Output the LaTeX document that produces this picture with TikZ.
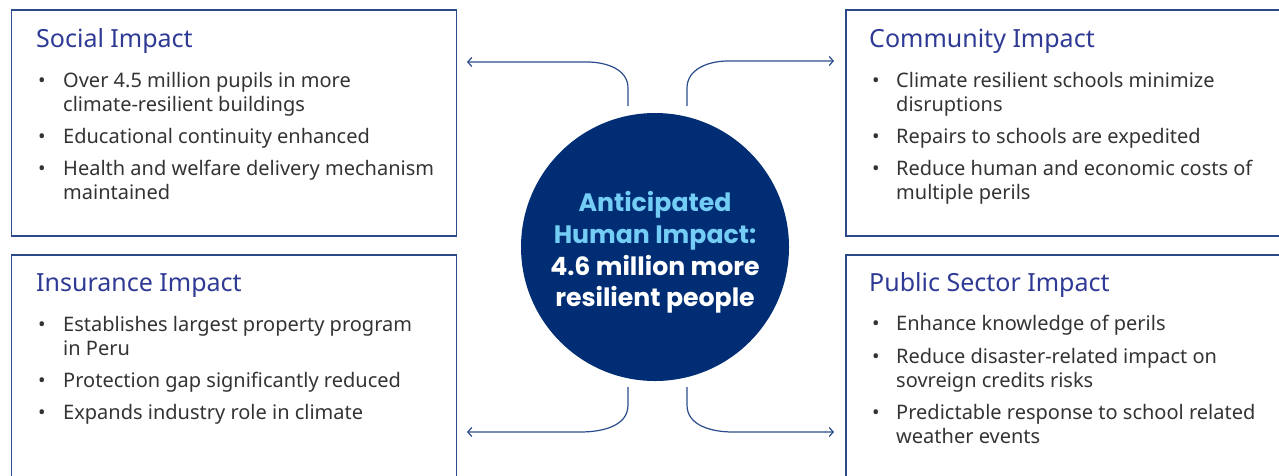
\documentclass[tikz,border=0pt]{standalone}
\usepackage{fontspec}
\setmainfont{Noto Sans}
\newfontfamily\hubfont{Poppins}
\usetikzlibrary{arrows.meta}
\definecolor{bordc}{HTML}{2A4A8A}
\definecolor{titlec}{HTML}{2E3A94}
\definecolor{bodyc}{HTML}{333333}
\definecolor{circc}{HTML}{002D74}
\definecolor{lightc}{HTML}{73CDF4}
\definecolor{arrc}{HTML}{2B4C8C}
\begin{document}
\begin{tikzpicture}[x=1pt,y=1pt,
  box/.style={draw=bordc, line width=1.5pt, anchor=north west, inner sep=0},
  ttl/.style={anchor=base west, inner sep=0, text=titlec, font=\fontsize{25}{30}\selectfont},
  blt/.style={anchor=base west, inner sep=0, text=bodyc, font=\fontsize{20}{24}\selectfont},
  itm/.style={anchor=base west, inner sep=0, text=bodyc, align=left, font=\fontsize{20}{24}\selectfont},
  ctx/.style={anchor=base, inner sep=0, font=\hubfont\bfseries\fontsize{25.2}{30}\selectfont},
  conn/.style={draw=arrc, line width=1.2pt, -{Straight Barb[length=4pt,width=9pt]}},
]
\useasboundingbox (0,0) rectangle (1279,-475);
% boxes
\node[box, minimum width=445, minimum height=226] (social) at (10.5,-9) {};
\node[box, minimum width=445, minimum height=226] (community) at (845,-9) {};
\node[box, minimum width=445, minimum height=226] (insurance) at (10.5,-254) {};
\node[box, minimum width=445, minimum height=226] (public) at (845,-254) {};
% social (two-line items anchored at last baseline)
\node[ttl] (t1) at (36,-47) {Social Impact};
\node[blt] (b11) at (38,-87) {•};
\node[itm] (i11) at (63,-111) {Over 4.5 million pupils in more\\climate-resilient buildings};
\node[blt] (b12) at (38,-143) {•};
\node[itm] (i12) at (63,-143) {Educational continuity enhanced};
\node[blt] (b13) at (38,-175) {•};
\node[itm] (i13) at (63,-199) {Health and welfare delivery mechanism\\maintained};
% community
\node[ttl] (t2) at (869,-47) {Community Impact};
\node[blt] (b21) at (872,-87) {•};
\node[itm] (i21) at (896,-111) {Climate resilient schools minimize\\disruptions};
\node[blt] (b22) at (872,-143) {•};
\node[itm] (i22) at (896,-143) {Repairs to schools are expedited};
\node[blt] (b23) at (872,-175) {•};
\node[itm] (i23) at (896,-199) {Reduce human and economic costs of\\multiple perils};
% insurance
\node[ttl] (t3) at (36,-291) {Insurance Impact};
\node[blt] (b31) at (38,-331) {•};
\node[itm] (i31) at (63,-355) {Establishes largest property program\\in Peru};
\node[blt] (b32) at (38,-387) {•};
\node[itm] (i32) at (63,-387) {Protection gap significantly reduced};
\node[blt] (b33) at (38,-419) {•};
\node[itm] (i33) at (63,-419) {Expands industry role in climate};
% public
\node[ttl] (t4) at (869,-291) {Public Sector Impact};
\node[blt] (b41) at (872,-330) {•};
\node[itm] (i41) at (896,-330) {Enhance knowledge of perils};
\node[blt] (b42) at (872,-363) {•};
\node[itm] (i42) at (896,-387) {Reduce disaster-related impact on\\sovreign credits risks};
\node[blt] (b43) at (872,-419) {•};
\node[itm] (i43) at (896,-443) {Predictable response to school related\\weather events};
% hub
\node[circle, fill=circc, minimum size=268, inner sep=0] (hub) at (655,-247) {};
\node[ctx, text=lightc] (c1) at (655,-211.5) {Anticipated};
\node[ctx, text=lightc] (c2) at (655,-243) {Human Impact:};
\node[ctx, text=white] (c3) at (655,-275) {4.6 million more};
\node[ctx, text=white] (c4) at (655,-306.5) {resilient people};
% connectors
\coordinate (tlS) at (628,-106); \coordinate (tlE) at (467,-62);
\coordinate (trS) at (687,-106); \coordinate (trE) at (834,-61);
\coordinate (blS) at (628,-387); \coordinate (blE) at (467,-432);
\coordinate (brS) at (687,-387); \coordinate (brE) at (834,-432);
\draw[conn] (tlS) -- (628,-88) to[out=90,in=0] (587,-62) -- (tlE);
\draw[conn] (trS) -- (687,-88) to[out=90,in=180] (728,-61) -- (trE);
\draw[conn] (blS) -- (628,-405) to[out=-90,in=0] (580,-432) -- (blE);
\draw[conn] (brS) -- (687,-405) to[out=-90,in=180] (733,-432) -- (brE);
\end{tikzpicture}
\end{document}
